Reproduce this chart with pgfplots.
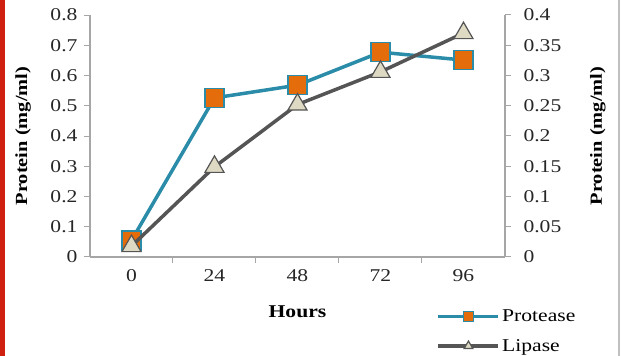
\documentclass[border=0pt]{standalone}
\usepackage{fontspec}
\setmainfont{Liberation Serif}[FakeStretch=1.2]
\usepackage{pgfplots}
\pgfplotsset{compat=1.18}
\definecolor{protline}{HTML}{2A8CA8}
\definecolor{protfill}{HTML}{E46C0A}
\definecolor{lipline}{HTML}{555555}
\definecolor{lipfill}{HTML}{DDD9C3}
\definecolor{axgray}{HTML}{A6A6A6}
\definecolor{barred}{HTML}{D0200F}
\definecolor{ticktext}{HTML}{262626}
\pgfplotsset{
  common/.style={
    at={(0,0)}, anchor=south west,
    scale only axis, width=415pt, height=242pt,
    xmin=-0.5, xmax=4.5,
    tick align=outside, major tick length=6pt,
    tick style={axgray, line width=1pt},
    axis line style={axgray, line width=1.2pt},
    ticklabel style={font=\fontsize{18}{20}\selectfont, text=ticktext},
    /pgf/number format/assume math mode=true,
    /pgf/number format/fixed, /pgf/number format/precision=2,
    label style={font=\fontsize{17}{20}\selectfont\bfseries},
  }
}
\begin{document}
\begin{tikzpicture}
\useasboundingbox (-90pt,-99pt) rectangle (532pt,257pt);
\fill[barred] (-90pt,-99pt) rectangle (-85pt,257pt);
\draw[black!25, line width=1.5pt] (529pt,-99pt) -- (529pt,257pt);
\begin{axis}[common,
  axis x line*=bottom, axis y line*=left,
  ymin=0, ymax=0.8,
  ytick={0,0.1,0.2,0.3,0.4,0.5,0.6,0.7,0.8},
  yticklabel style={xshift=-3pt},
  xtick={0.5,1.5,2.5,3.5}, xticklabels={},
  extra x ticks={0,1,2,3,4}, extra x tick labels={0,24,48,72,96},
  extra x tick style={major tick length=0pt, xticklabel style={yshift=-9pt}},
  xlabel={Hours},
  xlabel style={at={(axis description cs:0.5,-0.227)}, anchor=center, font=\fontsize{18}{20}\selectfont\bfseries},
  ylabel={Protein (mg/ml)},
  ylabel style={at={(axis description cs:-0.1614,0.5)}, anchor=center},
]
\addplot[protline, line width=3.5pt, mark=square*, mark size=9.5pt,
  mark options={fill=protfill, draw=protline, line width=1.5pt, solid}]
  coordinates {(0,0.055) (1,0.526) (2,0.568) (3,0.677) (4,0.651)};
\end{axis}
\begin{axis}[common,
  axis x line=none, axis y line*=right,
  ymin=0, ymax=0.4,
  ytick={0,0.05,0.1,0.15,0.2,0.25,0.3,0.35,0.4},
  yticklabel style={xshift=9pt},
  ylabel={Protein (mg/ml)},
  ylabel style={at={(axis description cs:1.224,0.5)}, anchor=center},
  legend style={at={(0.835,-0.21)}, anchor=north west, draw=none, fill=none,
    inner sep=0pt, font=\fontsize{18}{20}\selectfont,
    row sep=12pt, cells={anchor=west}},
  legend image code/.code={
    \draw[#1, mark size=5pt, mark repeat=2, mark phase=2] plot coordinates {(0pt,0pt) (30pt,0pt) (60pt,0pt)};
  },
]
\addlegendimage{protline, line width=3.5pt, mark=square*,
  mark options={fill=protfill, draw=protline, line width=1pt, solid}}
\addlegendentry{Protease}
\addplot[lipline, line width=3.5pt, mark=triangle*, mark size=11pt,
  mark options={fill=lipfill, draw=lipline, line width=1.2pt, solid}]
  coordinates {(0,0.018) (1,0.149) (2,0.252) (3,0.306) (4,0.370)};
\addlegendentry{Lipase}
\end{axis}
\end{tikzpicture}
\end{document}
